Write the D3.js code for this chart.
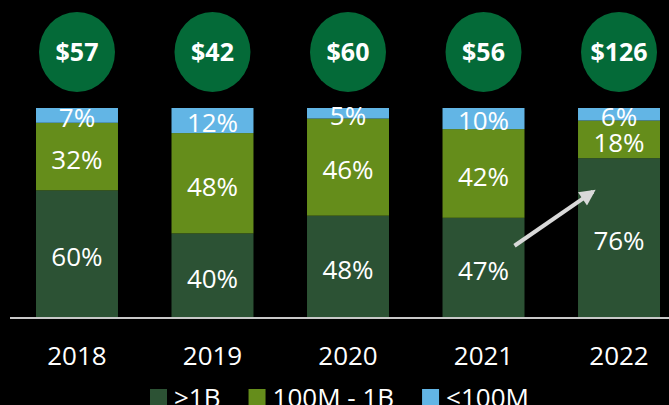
<!DOCTYPE html>
<html>
<head>
<meta charset="utf-8">
<script src="https://cdn.jsdelivr.net/npm/d3@7"></script>
<style>
body { margin: 0; background: #000; }
svg { display: block; font-family: "Open Sans", sans-serif; }
</style>
</head>
<body>
<script>
var years = ["2018", "2019", "2020", "2021", "2022"];
var totals = ["$57", "$42", "$60", "$56", "$126"];
var over1B = [60, 40, 48, 47, 76];
var mid100M1B = [32, 48, 46, 42, 18];
var under100M = [7, 12, 5, 10, 6];
var seriesNames = [">1B", "100M - 1B", "<100M"];
var colors = ["#2c5234", "#658d1b", "#62b5e5"];

var w = 669, h = 405;
var svg = d3.select("body").append("svg").attr("width", w).attr("height", h);

// rows for the stack, normalised so every bar fills the full height
var rows = years.map(function(y, i) {
	var t = over1B[i] + mid100M1B[i] + under100M[i];
	return {year: y, a: over1B[i] / t, b: mid100M1B[i] / t, c: under100M[i] / t,
		raw: [over1B[i], mid100M1B[i], under100M[i]]};
});
var stack = d3.stack().keys(["a", "b", "c"]);
var layers = stack(rows);

var x = d3.scaleBand().domain(years).range([36, 660]).paddingInner(0.395).paddingOuter(0);
var y = d3.scaleLinear().domain([0, 1]).range([317, 108]);

var g = svg.selectAll("g.layer").data(layers).enter().append("g")
	.attr("class", "layer")
	.attr("fill", function(d, i) { return colors[i]; });

g.selectAll("rect").data(function(d) { return d; }).enter().append("rect")
	.attr("x", function(d) { return x(d.data.year); })
	.attr("width", x.bandwidth())
	.attr("y", function(d) { return y(d[1]); })
	.attr("height", function(d) { return y(d[0]) - y(d[1]); });

// percent labels
layers.forEach(function(layer, k) {
	svg.selectAll("text.lab" + k).data(layer).enter().append("text")
		.attr("class", "lab" + k)
		.attr("x", function(d) { return x(d.data.year) + x.bandwidth() / 2; })
		.attr("y", function(d) { return (y(d[0]) + y(d[1])) / 2 + (k == 2 ? 2 : 3); })
		.attr("dy", "0.36em")
		.attr("text-anchor", "middle")
		.attr("fill", "#fff")
		.attr("font-size", "26px")
		.text(function(d) { return d.data.raw[k] + "%"; });
});

// baseline
svg.append("line")
	.attr("x1", 10).attr("x2", w)
	.attr("y1", y(0) + 1).attr("y2", y(0) + 1)
	.attr("stroke", "#c8c8c8").attr("stroke-width", 2);

// year axis
var ax = svg.append("g").attr("transform", "translate(0," + y(0) + ")")
	.call(d3.axisBottom(x).tickSize(0).tickPadding(30));
ax.select(".domain").remove();
ax.selectAll("text").attr("fill", "#fff").attr("font-size", "26px")
	.attr("font-family", "Open Sans, sans-serif");

// total bubbles
var bub = svg.selectAll("g.bub").data(years).enter().append("g")
	.attr("class", "bub")
	.attr("transform", function(d) { return "translate(" + (x(d) + x.bandwidth() / 2) + ",52)"; });
bub.append("ellipse").attr("rx", 38).attr("ry", 40).attr("fill", "#046a38");
bub.append("text")
	.attr("text-anchor", "middle")
	.attr("dy", "0.36em")
	.attr("fill", "#fff")
	.attr("font-size", "25px")
	.attr("font-weight", "bold")
	.text(function(d, i) { return totals[i]; });

// arrow from 2021 to 2022
var defs = svg.append("defs");
defs.append("marker").attr("id", "ah")
	.attr("viewBox", "0 0 10 10").attr("refX", 8).attr("refY", 5)
	.attr("markerWidth", 4.5).attr("markerHeight", 4)
	.attr("orient", "auto")
	.append("path").attr("d", "M0,0L10,5L0,10z").attr("fill", "#d9d9d9");
svg.append("line")
	.attr("x1", x("2021") + x.bandwidth() - 10).attr("y1", y(0.341))
	.attr("x2", x("2022") + 15).attr("y2", y(0.6))
	.attr("stroke", "#d9d9d9").attr("stroke-width", 4)
	.attr("marker-end", "url(#ah)");

// legend
var lx = 150;
seriesNames.forEach(function(name, i) {
	svg.append("rect").attr("x", lx).attr("y", 389).attr("width", 17).attr("height", 17)
		.attr("fill", colors[i]);
	var t = svg.append("text").attr("x", lx + 24).attr("y", 407)
		.attr("fill", "#fff").attr("font-size", "26px").text(name);
	lx += 24 + t.node().getComputedTextLength() + 28;
});
</script>
</body>
</html>
